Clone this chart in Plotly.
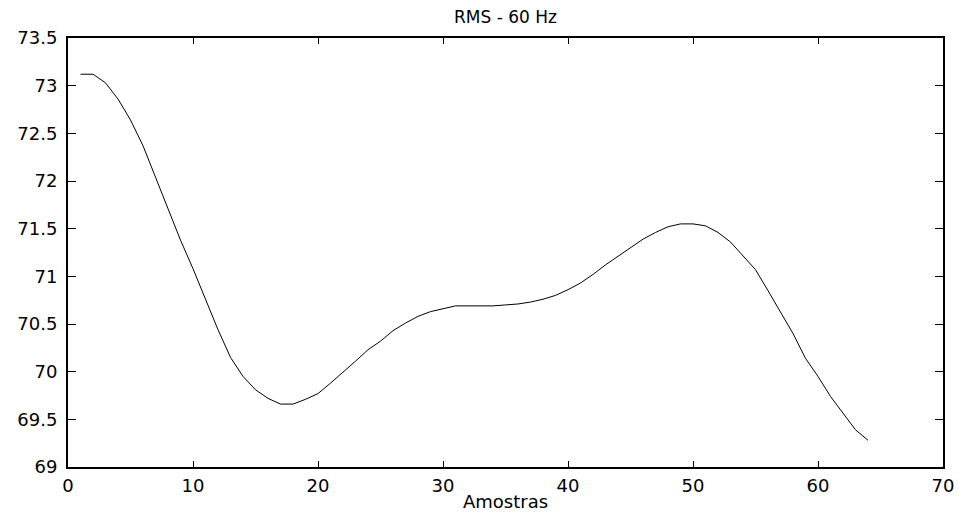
import plotly.graph_objects as go

amostras = list(range(1, 65))
rms = [73.12, 73.12, 73.03, 72.86, 72.64, 72.37, 72.04, 71.70, 71.38, 71.08,
       70.75, 70.44, 70.15, 69.95, 69.81, 69.72, 69.66, 69.66, 69.71, 69.77,
       69.88, 69.99, 70.11, 70.23, 70.32, 70.43, 70.51, 70.58, 70.63, 70.66,
       70.69, 70.69, 70.69, 70.69, 70.70, 70.71, 70.73, 70.76, 70.80, 70.86,
       70.93, 71.02, 71.12, 71.21, 71.30, 71.39, 71.46, 71.52, 71.55, 71.55,
       71.53, 71.46, 71.36, 71.22, 71.07, 70.85, 70.63, 70.40, 70.14, 69.95,
       69.74, 69.56, 69.39, 69.28]

x_ticks = [0, 10, 20, 30, 40, 50, 60, 70]
y_ticks = [69, 69.5, 70, 70.5, 71, 71.5, 72, 72.5, 73, 73.5]
y_tick_labels = ["69", "69.5", "70", "70.5", "71", "71.5", "72", "72.5", "73", "73.5"]

FONT = "DejaVu Sans"

fig = go.Figure()
fig.add_trace(go.Scatter(x=amostras, y=rms, mode="lines",
                         line=dict(color="black", width=1), showlegend=False))

fig.update_layout(
    width=966, height=515,
    margin=dict(l=68, r=19, t=37.5, b=48),
    paper_bgcolor="white", plot_bgcolor="white",
    font=dict(family=FONT, size=18, color="black"),
    title=dict(text="RMS - 60 Hz", x=0.5, xref="paper", xanchor="center",
               y=1 - 17.5 / 515, yref="container", yanchor="middle",
               font=dict(family=FONT, size=17, color="black")),
    xaxis=dict(range=[0, 70], tickvals=x_ticks, ticks="inside", ticklen=6,
               tickcolor="black", tickwidth=1, mirror="ticks", showline=True,
               linecolor="black", linewidth=2, showgrid=False, zeroline=False,
               ticklabelstandoff=1,
               tickfont=dict(family=FONT, size=18, color="black")),
    yaxis=dict(range=[69, 73.5], tickvals=y_ticks, ticktext=y_tick_labels,
               ticks="inside", ticklen=8, tickcolor="black", tickwidth=1,
               mirror="ticks", showline=True, linecolor="black", linewidth=2,
               showgrid=False, zeroline=False, ticklabelstandoff=5,
               tickfont=dict(family=FONT, size=18, color="black")),
    annotations=[dict(text="Amostras", x=0.5, xref="paper", y=-(502 - 467) / 429.5,
                      yref="paper", yanchor="middle", xanchor="center",
                      showarrow=False, font=dict(family=FONT, size=18, color="black"))],
)

fig.write_html("out.html")
